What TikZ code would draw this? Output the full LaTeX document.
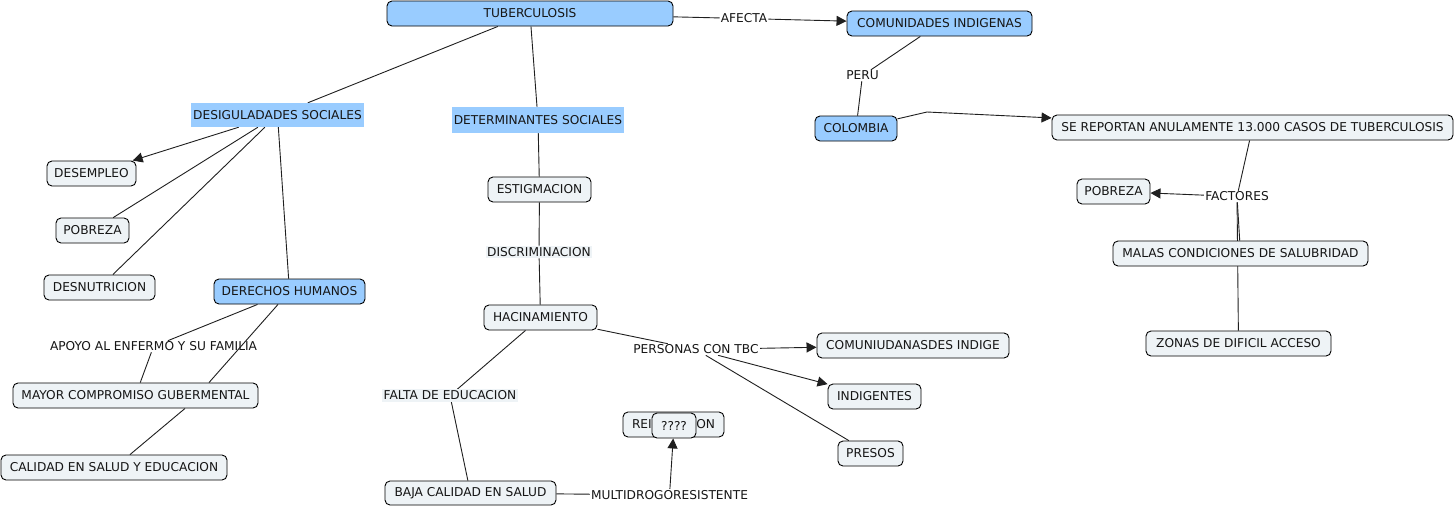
\documentclass[tikz,border=0pt]{standalone}
\usepackage{fontspec}
\setmainfont{DejaVu Sans}
\usetikzlibrary{arrows.meta,backgrounds,calc}
\definecolor{cblue}{RGB}{153,204,255}
\definecolor{clight}{RGB}{238,243,246}
\definecolor{ctext}{RGB}{22,22,22}
\begin{document}
\begin{tikzpicture}[x=1pt,y=-1pt,
 every node/.style={font=\fontsize{12.2}{14}\selectfont, text=ctext},
 concept/.style={draw=black, line width=0.9pt, rounded corners=5pt, fill=clight, inner sep=0pt, minimum height=25pt},
 bconcept/.style={concept, fill=cblue},
 bflat/.style={fill=cblue, inner sep=0pt, minimum height=25pt},
 lab/.style={fill=white, inner sep=1pt},
 llab/.style={fill=clight, inner sep=1.5pt},
 link/.style={line width=0.9pt, draw=black!88},
 arr/.style={link, -{Triangle[length=10pt,width=10pt]}}]
\useasboundingbox (0,0) rectangle (1456,507);
% concepts
\node[bconcept, minimum width=286pt] (tub) at (530,13.5) {TUBERCULOSIS};
\node[bconcept, minimum width=185pt] (comind) at (939.5,23.5) {COMUNIDADES INDIGENAS};
\node[bconcept, minimum width=82pt] (col) at (856,128.5) {COLOMBIA};
\node[concept, minimum width=401pt] (sere) at (1252.5,127.5) {SE REPORTAN ANULAMENTE 13.000 CASOS DE TUBERCULOSIS};
\node[concept, minimum width=73pt] (pobb) at (1113.5,191.5) {POBREZA};
\node[bflat, minimum width=173pt, minimum height=24pt] (desig) at (277.5,115) {DESIGULADADES SOCIALES};
\node[bflat, minimum width=172pt, minimum height=26pt] (determ) at (538,120) {DETERMINANTES SOCIALES};
\node[concept, minimum width=89pt] (desem) at (91.5,173.5) {DESEMPLEO};
\node[concept, minimum width=73pt] (poba) at (92.5,230.5) {POBREZA};
\node[concept, minimum width=111pt] (desn) at (99.5,287.5) {DESNUTRICION};
\node[bconcept, minimum width=151pt] (der) at (289.5,291.5) {DERECHOS HUMANOS};
\node[concept, minimum width=245pt] (may) at (135.5,395.5) {MAYOR COMPROMISO GUBERMENTAL};
\node[concept, minimum width=226pt] (cal) at (114,467.5) {CALIDAD EN SALUD Y EDUCACION};
\node[concept, minimum width=103pt] (estig) at (539.5,189.5) {ESTIGMACION};
\node[concept, minimum width=113pt] (hacin) at (540.5,317.5) {HACINAMIENTO};
\node[concept, minimum width=192pt] (comiu) at (913,345.5) {COMUNIUDANASDES INDIGE};
\node[concept, minimum width=93pt] (indig) at (874.5,396.5) {INDIGENTES};
\node[concept, minimum width=65pt] (presos) at (870.5,453.5) {PRESOS};
\node[concept, minimum width=171pt, minimum height=24pt] (baja) at (470.5,493) {BAJA CALIDAD EN SALUD};
\node[concept, minimum width=101pt] (rei) at (673.5,424.5) {REINFECCION};
\node[concept, minimum width=44pt] (q) at (674,425.5) {????};
% linking phrases
\node[lab] (afecta) at (744,18.5) {AFECTA};
\node[lab] (peru) at (862.5,75.5) {PERU};
\coordinate (emp) at (927,112);
\node[lab] (fact) at (1237,196.5) {FACTORES};
\node[lab] (apoyo) at (153.5,346.5) {APOYO AL ENFERMO Y SU FAMILIA};
\node[llab] (discr) at (539,252) {DISCRIMINACION};
\node[llab] (falta) at (450,395.5) {FALTA DE EDUCACION};
\node[lab] (pers) at (696,349.5) {PERSONAS CON TBC};
\node[lab] (multi) at (669.5,495) {MULTIDROGORESISTENTE};
% malas on top of the factores-zonas line
\node[concept, minimum width=255pt] (malas) at (1240.5,253.5) {MALAS CONDICIONES DE SALUBRIDAD};
\node[concept, minimum width=185pt] (zonas) at (1238.5,343.5) {ZONAS DE DIFICIL ACCESO};
\begin{scope}[on background layer]
\fill[white] (0,0) rectangle (1456,507);
\draw[link] (tub) -- (afecta);
\draw[arr] (afecta) -- (comind);
\draw[link] (comind) -- (peru);
\draw[link] (peru) -- (col);
\draw[link] (col) -- (emp);
\draw[arr] (emp) -- (sere);
\draw[link] (sere) -- (fact);
\draw[arr] (fact) -- (pobb);
\draw[link] (fact) -- (malas);
\draw[link] (fact) -- (zonas);
\draw[link] (tub) -- (desig);
\draw[link] (tub) -- (determ);
\draw[link] (determ) -- (estig);
\draw[link] (estig) -- (discr);
\draw[link] (discr) -- (hacin);
\draw[arr] (desig) -- (desem);
\draw[link] (desig) -- (poba);
\draw[link] (desig) -- (desn);
\draw[link] (desig) -- (der);
\draw[link] (der) -- (apoyo);
\draw[link] (apoyo) -- (may);
\draw[link] ($(may.south)+(49.5,0)$) -- ($(cal.north)+(16,0)$);
\draw[link] (hacin) -- (falta);
\draw[link] (falta) -- (baja);
\draw[link] (hacin) -- (pers);
\draw[arr] (pers) -- (comiu);
\draw[arr] (pers) -- (indig);
\draw[link] (pers) -- (presos);
\draw[link] (baja) -- (multi);
\draw[arr] (multi) -- (q);
\end{scope}
\draw[link] ($(der.south)+(-11.5,0)$) -- ($(may.north)+(73.5,0)$);
\end{tikzpicture}
\end{document}
